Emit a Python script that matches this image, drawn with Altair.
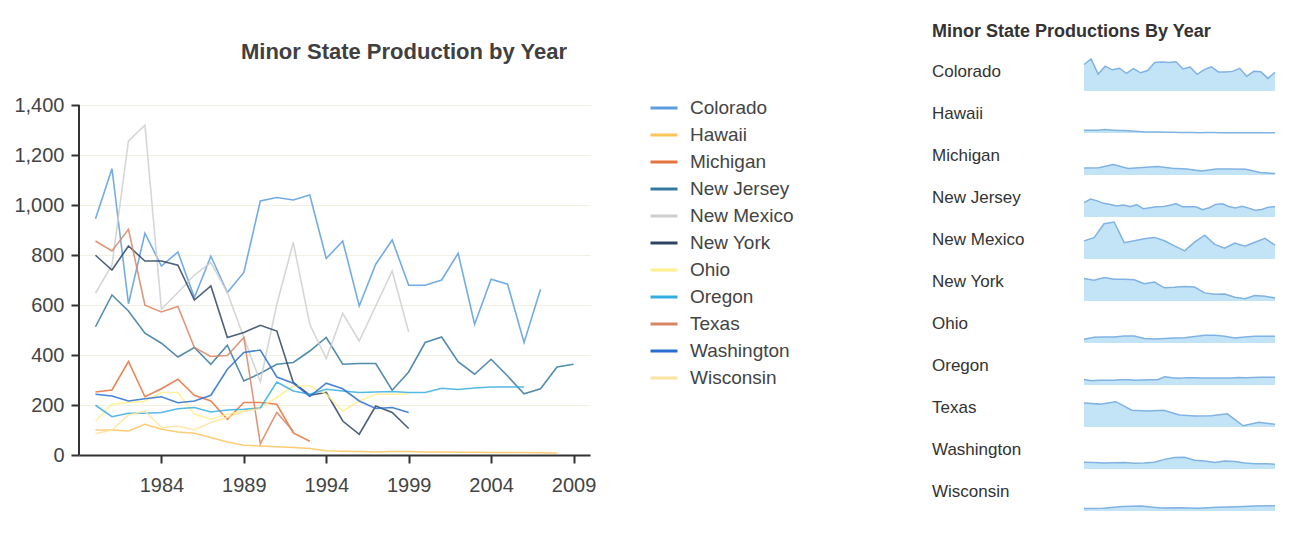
import altair as alt
import pandas as pd

states = ["Colorado", "Hawaii", "Michigan", "New Jersey", "New Mexico", "New York",
          "Ohio", "Oregon", "Texas", "Washington", "Wisconsin"]
colors = ["#5b9de0", "#fcc45c", "#e8703a", "#35789f", "#cfcfcf", "#2f4463",
          "#fff08c", "#35ade0", "#d98564", "#2a6fd0", "#fde3a0"]

first_year = 1980
colorado = [945, 1145, 605, 887, 756, 812, 630, 795, 650, 730, 1016, 1030, 1020, 1040,
            786, 856, 596, 763, 860, 679, 679, 700, 807, 523, 703, 683, 450, 663]
hawaii = [100, 100, 96, 123, 103, 92, 87, 70, 52, 39, 36, 33, 30, 26,
          17, 15, 14, 12, 14, 14, 12, 12, 11, 11, 10, 10, 10, 9, 8]
michigan = [252, 260, 374, 233, 265, 303, 239, 216, 143, 210, 210, 203, 88, 55]
new_jersey = [513, 640, 576, 487, 447, 392, 430, 363, 439, 296, 327, 363, 370, 416, 470,
              363, 366, 366, 259, 332, 450, 472, 373, 323, 383, 316, 245, 265, 352, 363]
new_mexico = [647, 760, 1256, 1319, 583, 650, 720, 770, 650, 470, 292, 603, 850, 523,
              385, 567, 456, 596, 736, 492]
new_york = [799, 740, 836, 776, 776, 759, 620, 676, 470, 490, 519, 496, 290, 239, 250,
            136, 83, 196, 170, 106]
ohio = [136, 203, 210, 215, 250, 250, 163, 143, 163, 176, 190, 230, 276, 276, 243,
        176, 216, 243, 243, 243]
oregon = [199, 153, 167, 167, 170, 185, 190, 172, 180, 183, 188, 292, 256, 243, 263,
          256, 250, 252, 254, 250, 250, 267, 262, 268, 272, 272, 272]
texas = [856, 816, 903, 599, 572, 594, 430, 394, 398, 470, 45, 170, 95]
washington = [243, 236, 216, 225, 233, 209, 216, 239, 343, 410, 420, 312, 287, 234,
              287, 265, 216, 186, 190, 170]
wisconsin = [85, 100, 160, 175, 110, 115, 100, 130, 150, 175, 185]

series = [colorado, hawaii, michigan, new_jersey, new_mexico, new_york,
          ohio, oregon, texas, washington, wisconsin]

x_ticks = [1984, 1989, 1994, 1999, 2004, 2009]
y_ticks = [0, 200, 400, 600, 800, 1000, 1200, 1400]
x_domain = [1979, 2010]
y_domain = [0, 1576]   # headroom above the 1,400 gridline (title area of the reference)

rows = []
for st, vals in zip(states, series):
    for i, v in enumerate(vals):
        rows.append({"State": st, "Year": first_year + i, "Production": v})
df = pd.DataFrame(rows)

FONT = "Liberation Sans"

xs = alt.X("Year:Q",
           scale=alt.Scale(domain=x_domain, nice=False, zero=False),
           axis=alt.Axis(values=x_ticks, format="d", title=None, grid=False,
                         labelFontSize=20, labelColor="#444", labelPadding=12,
                         tickSize=8, tickColor="#333", domainColor="#333",
                         domainWidth=2, tickWidth=2, labelFlush=False))
ys = alt.Y("Production:Q",
           scale=alt.Scale(domain=y_domain, nice=False),
           axis=alt.Axis(values=y_ticks, format=",d", title=None, grid=True,
                         gridColor="#f3f0e2", gridWidth=1, domain=False,
                         labelFontSize=20, labelColor="#444", labelPadding=7,
                         tickSize=8, tickColor="#333", tickWidth=2))

lines = alt.Chart(df).mark_line(strokeWidth=1.6, opacity=0.85).encode(
    x=xs, y=ys,
    color=alt.Color("State:N",
                    scale=alt.Scale(domain=states, range=colors),
                    legend=alt.Legend(title=None, orient="none", legendX=570, legendY=32,
                                      symbolType="stroke", symbolStrokeWidth=3,
                                      symbolSize=729, symbolOpacity=1,
                                      labelFontSize=19, labelColor="#444",
                                      labelOffset=11, rowPadding=2, padding=0)),
    order=alt.Order("Year:Q"),
)
y_axis_line = alt.Chart(df).transform_aggregate(n="count()").mark_rule(
    color="#333", strokeWidth=2
).encode(x=alt.datum(x_domain[0]), y=alt.datum(y_ticks[0]), y2=alt.datum(y_ticks[-1]))

left = alt.layer(lines, y_axis_line).properties(
    width=511, height=394,
    title=alt.TitleParams("Minor State Production by Year", fontSize=22,
                          fontWeight="bold", color="#404040",
                          anchor="middle", frame="bounds", offset=-3, font=FONT),
)

spark_x = alt.X("Year:Q", axis=None, scale=alt.Scale(zero=False, nice=False))
spark_y = alt.Y("Production:Q", axis=None, scale=alt.Scale(domain=[0, 1070], nice=False))
area = alt.Chart().mark_area(fill="#c3e4f6", opacity=1).encode(x=spark_x, y=spark_y)
line = alt.Chart().mark_line(color="#80b2e4", strokeWidth=1.5).encode(x=spark_x, y=spark_y)
label = alt.Chart().transform_aggregate(
    n="count()", groupby=["State"]
).mark_text(align="left", baseline="middle", fontSize=17, color="#333", font=FONT).encode(
    x=alt.value(-152), y=alt.value(11), text="State:N"
)
sparks = alt.layer(area, line, label).properties(width=191, height=30).facet(
    row=alt.Row("State:N", sort=states, header=None),
    data=df, spacing=12, bounds="flush",
).resolve_scale(x="independent").properties(
    title=alt.TitleParams("Minor State Productions By Year", fontSize=18,
                          fontWeight="bold", color="#333", anchor="start",
                          frame="bounds", offset=15, font=FONT),
)

chart = alt.hconcat(left, sparks, spacing=138).resolve_legend(color="independent").properties(
    padding={"left": 5, "top": 14, "right": 5, "bottom": 5}
).configure(font=FONT).configure_view(stroke="transparent", strokeWidth=0)

chart.save("out.html", embed_options={"renderer": "svg", "actions": False})
